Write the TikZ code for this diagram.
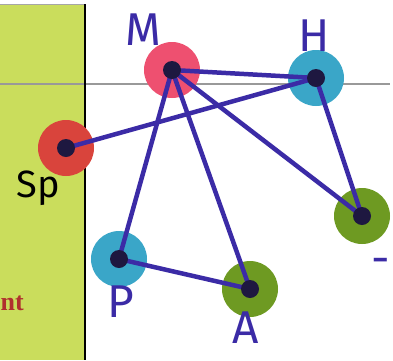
\documentclass[tikz,border=0pt]{standalone}
\usepackage{fontspec}
\setmainfont{Liberation Serif}
\newfontfamily\handfont{Fira Sans}
\definecolor{panelgreen}{HTML}{CADD5C}
\definecolor{ink}{HTML}{3B2BA6}
\definecolor{spred}{HTML}{D9443C}
\definecolor{mpink}{HTML}{EE5070}
\definecolor{hblue}{HTML}{3AA6C8}
\definecolor{ngreen}{HTML}{6E9A22}
\definecolor{darkred}{HTML}{B0302E}
\definecolor{core}{HTML}{1E1840}
\tikzset{
  blob/.style={circle, minimum size=56pt, inner sep=0pt, draw=none},
  coredot/.style={circle, fill=core, minimum size=18pt, inner sep=0pt},
  edge/.style={draw=ink, line width=4.5pt, line cap=round},
  lab/.style={font=\handfont\fontsize{46}{46}\selectfont, text=ink},
}
\begin{document}
\begin{tikzpicture}[x=1pt,y=-1pt]
\useasboundingbox (0,0) rectangle (393,360);
\fill[white] (0,0) rectangle (393,360);
% panel
\fill[panelgreen] (0,4) rectangle (85,360);
\draw[gray!70, line width=1pt] (0,4) -- (85,4);
\draw[gray!80, line width=1.2pt] (0,84) -- (390,84);
\draw[black, line width=2pt] (85,4) -- (85,360);
\node[anchor=west, inner sep=0pt, font=\bfseries\fontsize{26}{26}\selectfont, text=darkred] (nt) at (0.5,303) {nt};
% blobs
\node[blob, fill=mpink] (M) at (172,70) {};
\node[blob, fill=hblue] (H) at (316,78) {};
\node[blob, fill=spred] (Sp) at (66,148) {};
\node[blob, fill=hblue] (P) at (119,259) {};
\node[blob, fill=ngreen] (A) at (250,289) {};
\node[blob, fill=ngreen] (G) at (362,216) {};
% edges
\draw[edge] (M.center) -- (H.center);
\draw[edge] (Sp.center) -- (H.center);
\draw[edge] (M.center) -- (G.center);
\draw[edge] (H.center) -- (G.center);
\draw[edge] (M.center) -- (P.center);
\draw[edge] (M.center) -- (A.center);
\draw[edge] (P.center) -- (A.center);
% cores
\node[coredot] (Mc) at (M.center) {};
\node[coredot] (Hc) at (H.center) {};
\node[coredot] (Spc) at (Sp.center) {};
\node[coredot] (Pc) at (P.center) {};
\node[coredot] (Ac) at (A.center) {};
\node[coredot] (Gc) at (G.center) {};
% labels
\node[lab] (Ml) at (143,30) {M};
\node[lab] (Hl) at (314,36) {H};
\node[lab, text=black, font=\handfont\fontsize{38}{38}\selectfont] (Spl) at (38,188) {Sp};
\node[lab] (Pl) at (121,302) {P};
\node[lab] (Al) at (246,328) {A};
\node[lab] (Gl) at (381,266) {-};
\end{tikzpicture}
\end{document}
